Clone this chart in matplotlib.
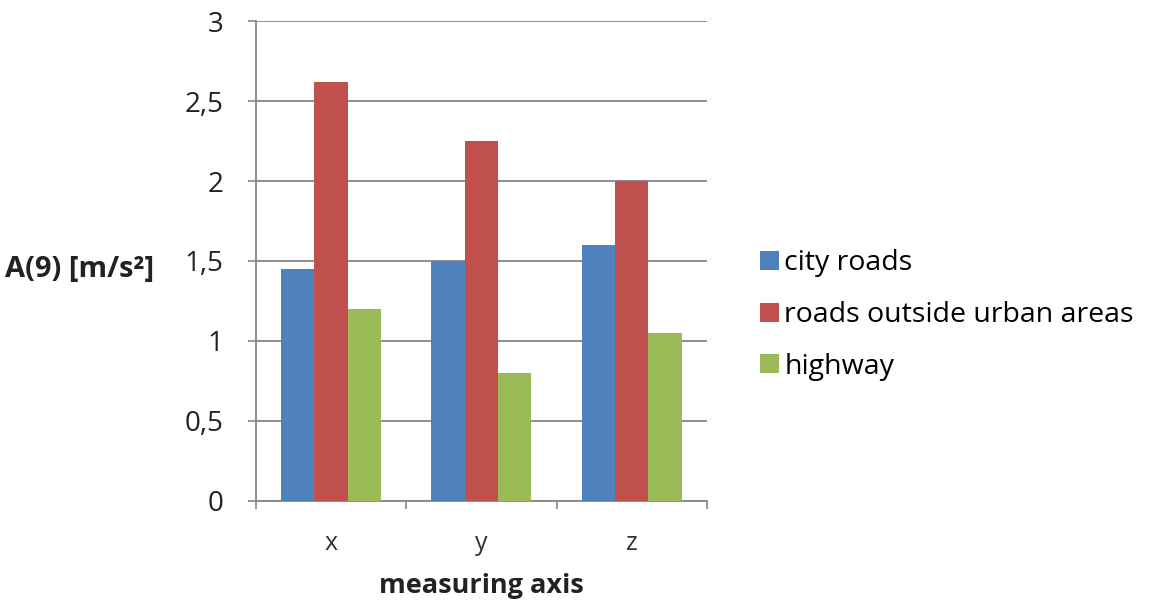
import numpy as np
import matplotlib.pyplot as plt
from matplotlib.ticker import FuncFormatter

categories = ["x", "y", "z"]
series_names = ["city roads", "roads outside urban areas", "highway"]
city_roads = [1.45, 1.50, 1.60]
outside_urban = [2.62, 2.25, 2.00]
highway = [1.20, 0.80, 1.05]
y_ticks = [0, 0.5, 1, 1.5, 2, 2.5, 3]

colors = ["#4F81BD", "#C0504D", "#9BBB59"]
grid_col = "#868686"

plt.rcParams['font.family'] = ['Open Sans', 'DejaVu Sans']

fig = plt.figure(figsize=(11.57, 6.01), dpi=100)
ax = fig.add_axes([0.221, 0.167, 0.390, 0.7976])

x = np.arange(len(categories))
w = 1 / 4.5
for i, vals in enumerate([city_roads, outside_urban, highway]):
    ax.bar(x + (i - 1) * w, vals, width=w, color=colors[i], label=series_names[i], zorder=3)

ax.set_xlim(-0.5, 2.5)
ax.set_ylim(0, 3)
ax.set_yticks(y_ticks)
ax.yaxis.set_major_formatter(FuncFormatter(lambda v, p: ("%g" % v).replace(".", ",")))
ax.yaxis.grid(True, color=grid_col, linewidth=1.3, zorder=0)

ax.set_xticks(x)
ax.set_xticklabels(categories)
ax.set_xticks([-0.5, 0.5, 1.5, 2.5], minor=True)
ax.tick_params(axis="x", which="major", length=0, pad=22, labelsize=18, colors="#333333")
ax.tick_params(axis="x", which="minor", length=6, width=1.2, color=grid_col, direction="out")
ax.tick_params(axis="y", length=6, width=1.2, color=grid_col, pad=17, labelsize=20, labelcolor="#222222")

for s in ["top", "right"]:
    ax.spines[s].set_visible(False)
for s in ["left", "bottom"]:
    ax.spines[s].set_color(grid_col)
    ax.spines[s].set_linewidth(1.3)

ax.set_xlabel("measuring axis", fontsize=19.5, fontweight="bold", labelpad=12, color="#222222")
fig.text(0.004, 0.552, "A(9) [m/s²]", fontsize=21, fontweight="bold", va="center", ha="left",
         color="#222222")

ax.legend(loc="center left", bbox_to_anchor=(1.118, 0.387), frameon=False,
          fontsize=20.5, handlelength=0.65, handleheight=0.65, handletextpad=0.2,
          labelspacing=0.83, borderaxespad=0, borderpad=0)

fig.savefig("out.png", dpi=100)
